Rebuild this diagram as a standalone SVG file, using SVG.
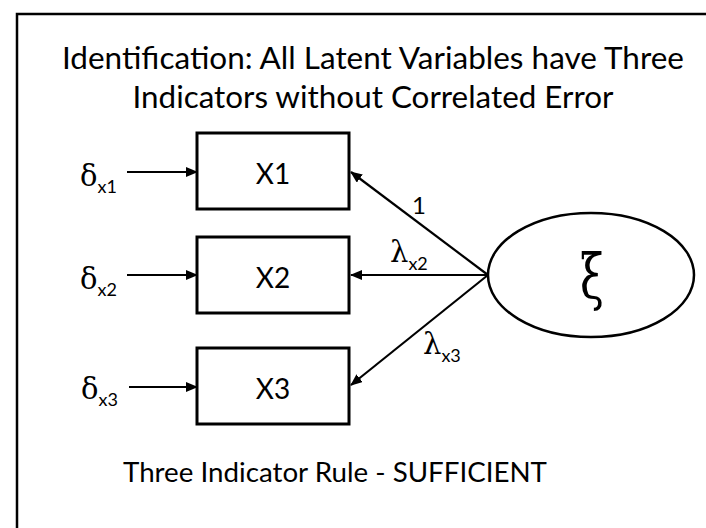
<svg xmlns="http://www.w3.org/2000/svg" width="706" height="528" viewBox="0 0 706 528">
  <style>
    .sans { font-family: Lato, "Open Sans", "Liberation Sans", sans-serif; fill: #000; }
    .greek { font-family: "DejaVu Serif", "Liberation Serif", serif; fill: #000; }
    .sub { font-family: Lato, "Open Sans", "Liberation Sans", sans-serif; fill: #000; font-size: 18px; }
    .box { fill: #fff; stroke: #000; stroke-width: 3; }
    .edge { stroke: #000; stroke-width: 2.2; fill: none; marker-end: url(#head); }
  </style>
  <defs>
    <marker id="head" markerUnits="userSpaceOnUse" markerWidth="12" markerHeight="10" refX="11" refY="5" orient="auto">
      <path d="M0,0 L12,5 L0,10 Z" fill="#000"/>
    </marker>
  </defs>

  <rect width="706" height="528" fill="#fff"/>
  <!-- slide frame: only the top and left edges fall inside the view -->
  <path d="M17,528 V14 H706" fill="none" stroke="#000" stroke-width="2.5"/>

  <!-- title -->
  <text class="sans" x="373" y="69" font-size="31" text-anchor="middle" textLength="622" lengthAdjust="spacingAndGlyphs">Identification: All Latent Variables have Three</text>
  <text class="sans" x="373" y="108" font-size="31" text-anchor="middle" textLength="481" lengthAdjust="spacingAndGlyphs">Indicators without Correlated Error</text>

  <!-- connectors -->
  <g id="connectors">
    <line class="edge" x1="127" y1="172" x2="197" y2="172"/>
    <line class="edge" x1="127" y1="275" x2="197" y2="275"/>
    <line class="edge" x1="129" y1="387" x2="197" y2="387"/>
    <line class="edge" x1="488" y1="275" x2="351" y2="172"/>
    <line class="edge" x1="488" y1="275" x2="351" y2="275"/>
    <line class="edge" x1="488" y1="275" x2="351" y2="385"/>
    <text class="sans" x="419" y="214" font-size="24" text-anchor="middle">1</text>
    <text class="greek" x="390" y="262" font-size="29">λ<tspan class="sub" dy="8">x2</tspan></text>
    <text class="greek" x="423" y="354" font-size="29">λ<tspan class="sub" dy="8">x3</tspan></text>
  </g>

  <!-- error terms -->
  <g id="delta1"><text class="greek" x="80" y="186" font-size="29">δ<tspan class="sub" dy="7">x1</tspan></text></g>
  <g id="delta2"><text class="greek" x="80" y="289" font-size="29">δ<tspan class="sub" dy="7">x2</tspan></text></g>
  <g id="delta3"><text class="greek" x="81" y="399" font-size="29">δ<tspan class="sub" dy="7">x3</tspan></text></g>

  <!-- indicators -->
  <g id="x1">
    <rect class="box" x="197" y="133" width="152" height="76"/>
    <text class="sans" x="273" y="184" font-size="28" text-anchor="middle">X1</text>
  </g>
  <g id="x2">
    <rect class="box" x="197" y="237" width="152" height="76"/>
    <text class="sans" x="273" y="288" font-size="28" text-anchor="middle">X2</text>
  </g>
  <g id="x3">
    <rect class="box" x="197" y="348" width="152" height="76"/>
    <text class="sans" x="273" y="399" font-size="28" text-anchor="middle">X3</text>
  </g>

  <!-- latent variable -->
  <g id="xi">
    <ellipse cx="591" cy="275" rx="103" ry="62" fill="#fff" stroke="#000" stroke-width="2.5"/>
    <text class="greek" x="592" y="296" font-size="54" text-anchor="middle" transform="translate(592 283) scale(0.8 1.15) translate(-592 -283)">ξ</text>
  </g>

  <text class="sans" x="335" y="482" font-size="27" text-anchor="middle" textLength="424" lengthAdjust="spacingAndGlyphs">Three Indicator Rule - SUFFICIENT</text>
</svg>
